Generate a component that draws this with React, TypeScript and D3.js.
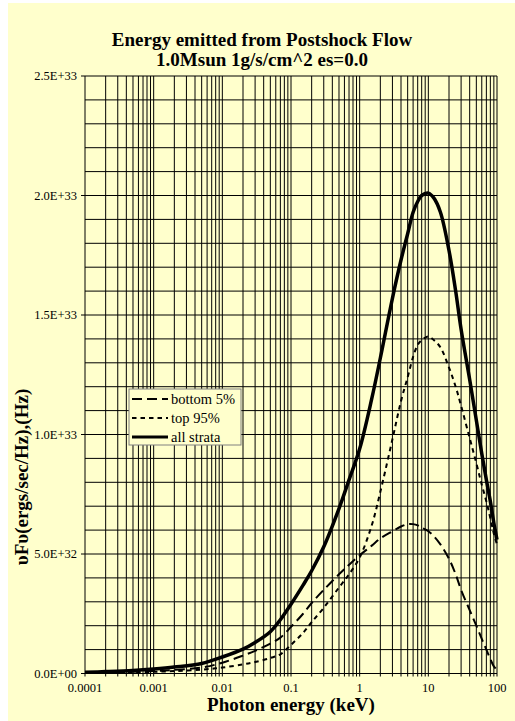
import React from "react";
import * as d3 from "d3";

// ---- data (values in units of 1e32 ergs/sec/Hz) ----
const energies = [1e-4, 2e-4, 5e-4, 1e-3, 2e-3, 5e-3, 0.01, 0.02, 0.03, 0.05, 0.07, 0.1, 0.15, 0.2, 0.3, 0.5, 0.7, 1, 1.5, 2, 3, 4, 5, 6, 7, 8, 10, 12, 15, 20, 25, 30, 40, 50, 60, 70, 80, 90, 100];
const bottom5 = [0.03, 0.04, 0.07, 0.1, 0.15, 0.25, 0.45, 0.75, 0.95, 1.25, 1.5, 1.95, 2.5, 2.95, 3.5, 4.15, 4.55, 4.95, 5.35, 5.65, 5.95, 6.15, 6.25, 6.25, 6.2, 6.1, 5.95, 5.75, 5.4, 4.8, 4.15, 3.5, 2.65, 2.0, 1.45, 1.0, 0.6, 0.3, 0.15];
const top95 = [0.02, 0.03, 0.05, 0.07, 0.1, 0.16, 0.25, 0.38, 0.48, 0.65, 0.8, 1.2, 1.7, 2.15, 2.75, 3.6, 4.15, 4.85, 6.2, 7.6, 9.8, 11.4, 12.4, 13.25, 13.75, 13.95, 14.1, 13.95, 13.65, 12.8, 12.0, 11.2, 9.85, 8.8, 7.9, 7.2, 6.5, 5.85, 5.4];
const allStrata = [0.05, 0.08, 0.13, 0.19, 0.27, 0.42, 0.69, 1.02, 1.3, 1.75, 2.25, 2.9, 3.7, 4.3, 5.3, 6.9, 8.1, 9.4, 11.5, 13.2, 15.7, 17.3, 18.4, 19.3, 19.75, 20.0, 20.1, 19.9, 19.3, 17.7, 16.0, 14.4, 12.3, 10.6, 9.2, 8.1, 7.2, 6.3, 5.6];

const xTickValues = [1e-4, 1e-3, 1e-2, 1e-1, 1, 10, 100];
const xTickLabels = ["0.0001", "0.001", "0.01", "0.1", "1", "10", "100"];
const yTickValues = [0, 5, 10, 15, 20, 25];
const yTickLabels = ["0.0E+00", "5.0E+32", "1.0E+33", "1.5E+33", "2.0E+33", "2.5E+33"];

const seriesNames = ["bottom 5%", "top 95%", "all strata"];

const title1 = "Energy emitted from Postshock Flow";
const title2 = "1.0Msun 1g/s/cm^2 es=0.0";
const xTitle = "Photon energy (keV)";
const yTitle = "\u03C5F\u03C5(ergs/sec/Hz),(Hz)";

const BG = "#FFFFCC";
const FONT = "'Liberation Serif', 'Times New Roman', serif";

export default function App() {
  const left = 85, right = 497, top = 76, bottom = 673.5;
  const x = d3.scaleLog().domain([1e-4, 100]).range([left, right]);
  const y = d3.scaleLinear().domain([0, 25]).range([bottom, top]);

  const xGrid: number[] = [];
  for (let e = -4; e < 2; e++) {
    for (let m = 1; m <= 9; m++) xGrid.push(m * Math.pow(10, e));
  }
  xGrid.push(100);
  const yGrid = d3.range(0, 26, 1);

  const line = d3
    .line<number>()
    .x((_, i) => x(energies[i]))
    .y((d) => y(d))
    .curve(d3.curveCatmullRom.alpha(0.5));

  const series = [
    { name: seriesNames[0], values: bottom5, dash: "10,5", width: 2 },
    { name: seriesNames[1], values: top95, dash: "4.5,4", width: 2 },
    { name: seriesNames[2], values: allStrata, dash: "none", width: 3.5 },
  ];

  const legX = 129, legY = 389, legW = 112, legH = 56;

  return (
    <svg
      width={515}
      height={721}
      style={{ position: "absolute", left: 0, top: 0, fontFamily: FONT }}
    >
      <rect x={8} y={3} width={507} height={718} fill={BG} />
      <text x={262} y={46} textAnchor="middle" fontSize={19} fontWeight="bold">
        {title1}
      </text>
      <text x={262} y={66} textAnchor="middle" fontSize={19} fontWeight="bold">
        {title2}
      </text>

      <g stroke="#000" strokeWidth={1}>
        {xGrid.map((v, i) => (
          <line key={"gx" + i} x1={x(v)} x2={x(v)} y1={top} y2={bottom + 3} />
        ))}
        {yGrid.map((v, i) => (
          <line key={"gy" + i} x1={left} x2={right} y1={y(v)} y2={y(v)} />
        ))}
        {yTickValues.map((v, i) => (
          <line key={"ty" + i} x1={left - 4} x2={left} y1={y(v)} y2={y(v)} />
        ))}
      </g>

      <g fontSize={12.5}>
        {yTickValues.map((v, i) => (
          <text key={"yl" + i} x={77} y={y(v)} dy="0.35em" textAnchor="end">
            {yTickLabels[i]}
          </text>
        ))}
        {xTickValues.map((v, i) => (
          <text key={"xl" + i} x={x(v)} y={692} textAnchor="middle">
            {xTickLabels[i]}
          </text>
        ))}
      </g>

      <text x={291} y={711} textAnchor="middle" fontSize={19} fontWeight="bold">
        {xTitle}
      </text>
      <text
        transform={`translate(28,477) rotate(-90)`}
        textAnchor="middle"
        fontSize={19}
        fontWeight="bold"
      >
        {yTitle}
      </text>

      <g fill="none" stroke="#000">
        {series.map((s) => (
          <path
            key={s.name}
            d={line(s.values) || ""}
            strokeWidth={s.width}
            strokeDasharray={s.dash}
          />
        ))}
      </g>

      <rect x={legX} y={legY} width={legW} height={legH} fill={BG} stroke="#808080" strokeWidth={1} />
      {series.map((s, i) => {
        const cy = legY + 10 + i * 19;
        return (
          <g key={"leg" + i}>
            <line
              x1={legX + 3}
              x2={legX + 39}
              y1={cy}
              y2={cy}
              stroke="#000"
              strokeWidth={s.width === 3.5 ? 3 : 2}
              strokeDasharray={s.dash}
            />
            <text x={legX + 42} y={cy} dy="0.35em" fontSize={14.5}>
              {s.name}
            </text>
          </g>
        );
      })}
    </svg>
  );
}
